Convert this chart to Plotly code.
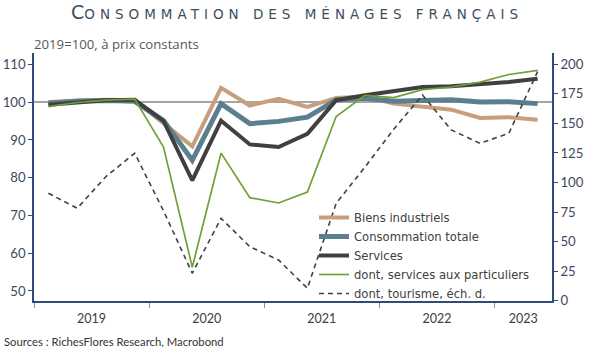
import plotly.graph_objects as go

quarters = ["2019T1","2019T2","2019T3","2019T4","2020T1","2020T2","2020T3","2020T4",
            "2021T1","2021T2","2021T3","2021T4","2022T1","2022T2","2022T3","2022T4",
            "2023T1","2023T2"]
biens = [100.0, 100.2, 100.6, 100.5, 94.3, 88.3, 103.8, 99.1, 100.9, 98.7, 101.1, 101.5,
         99.6, 98.7, 98.0, 95.8, 96.0, 95.3]
conso = [99.7, 100.3, 100.4, 100.2, 95.1, 84.6, 99.6, 94.3, 94.9, 96.0, 100.6, 101.0,
         100.2, 100.4, 100.6, 100.0, 100.1, 99.6]
services = [99.3, 100.0, 100.5, 100.6, 95.0, 79.3, 95.1, 88.8, 88.1, 91.6, 100.5, 101.8,
            103.0, 104.0, 104.2, 104.8, 105.3, 106.2]
particuliers = [98.8, 99.9, 100.5, 100.8, 88.1, 56.3, 86.5, 74.7, 73.3, 76.2, 96.2, 101.8,
                101.2, 103.3, 104.0, 105.3, 107.3, 108.4]
tourisme = [90.9, 78.2, 105.0, 124.7, 76.0, 23.2, 69.7, 45.7, 34.4, 10.5, 82.4, 113.0,
            145.0, 174.0, 144.4, 133.1, 141.6, 193.7]
years = ["2019", "2020", "2021", "2022", "2023"]
year_centers = [2, 6, 10, 14, 17]
year_bounds = [0, 4, 8, 12, 16]
left_ticks = [50, 60, 70, 80, 90, 100, 110]
right_ticks = [0, 25, 50, 75, 100, 125, 150, 175, 200]

xpos = [i + 0.5 for i in range(len(quarters))]

FONT = "Lato, 'Open Sans', sans-serif"
LFONT = "'Open Sans', sans-serif"
AX = "#2f4b7c"
TXT = "#404040"

fig = go.Figure()
fig.add_trace(go.Scatter(x=xpos, y=biens, name="Biens industriels", mode="lines",
                         line=dict(color="#c79f7d", width=4)))
fig.add_trace(go.Scatter(x=xpos, y=conso, name="Consommation totale", mode="lines",
                         line=dict(color="#5b7f8e", width=5)))
fig.add_trace(go.Scatter(x=xpos, y=services, name="Services", mode="lines",
                         line=dict(color="#404040", width=4)))
fig.add_trace(go.Scatter(x=xpos, y=particuliers, name="dont, services aux particuliers",
                         mode="lines", line=dict(color="#73a033", width=1.7)))
fig.add_trace(go.Scatter(x=xpos, y=tourisme, name="dont, tourisme, éch. d.", mode="lines",
                         yaxis="y2", line=dict(color="#404040", width=1.6, dash="5px,4px")))

fig.add_shape(type="line", xref="paper", x0=0, x1=1, yref="y", y0=100, y1=100,
              line=dict(color="#a6a6a6", width=2), layer="below")

title_text = ("C<span style='font-size:13.5px;letter-spacing:5px'>"
              "ONSOMMATION DES MÉNAGES FRANÇAIS</span>")
fig.add_annotation(text=title_text, xref="paper", yref="paper", x=0.508, y=1.0,
                   yshift=53 - 12, xanchor="center", yanchor="middle", showarrow=False,
                   font=dict(family="DejaVu Sans", size=19, color="#3b4e5e"))
fig.add_annotation(text="2019=100, à prix constants", xref="paper", yref="paper",
                   x=0, y=1, xshift=-2, yshift=53 - 44, xanchor="left", yanchor="middle",
                   showarrow=False, font=dict(family=LFONT, size=13.2, color="#595959"))
fig.add_annotation(text="Sources : RichesFlores Research, Macrobond", xref="paper",
                   yref="paper", x=0, y=0, xshift=-32, yshift=-(341 - 301),
                   xanchor="left", yanchor="middle", showarrow=False,
                   font=dict(family=FONT, size=11.3, color="#333333"))

fig.update_layout(
    width=591, height=348,
    margin=dict(l=34, r=39, t=53, b=47, autoexpand=False),
    paper_bgcolor="white", plot_bgcolor="white",
    font=dict(family=FONT, size=13, color=TXT),
    showlegend=True,
    legend=dict(x=(314 - 34) / 518, y=(301 - 203) / 248, xanchor="left", yanchor="top",
                bgcolor="rgba(255,255,255,0)", borderwidth=0, tracegroupgap=0,
                font=dict(family="DejaVu Sans", size=11.6, color=TXT)),
    xaxis=dict(range=[0, 18], tickmode="array", tickvals=year_centers, ticktext=years,
               ticks="", showgrid=False, zeroline=False, showline=True, linecolor=AX,
               linewidth=1.5, tickfont=dict(size=12.5, color=TXT), automargin=False,
               ticklabelstandoff=5,
               minor=dict(tickmode="array", tickvals=year_bounds, ticks="outside",
                          ticklen=5, tickcolor="#8c8c8c", tickwidth=1, showgrid=False)),
    yaxis=dict(range=[47.35, 113.0], tickvals=left_ticks, ticks="outside", ticklen=4,
               tickcolor=AX, showgrid=False, zeroline=False, showline=True,
               linecolor=AX, linewidth=1.5, tickfont=dict(size=13.2, color="#3d4a60"),
               automargin=False),
    yaxis2=dict(range=[-0.25, 209.5], tickvals=right_ticks, ticks="outside", ticklen=4,
                tickcolor=AX, overlaying="y", side="right", showgrid=False,
                zeroline=False, showline=True, linecolor=AX, linewidth=1.5,
                tickfont=dict(size=13.2, color="#3d4a60"), automargin=False),
)

fig.write_html("out.html")
